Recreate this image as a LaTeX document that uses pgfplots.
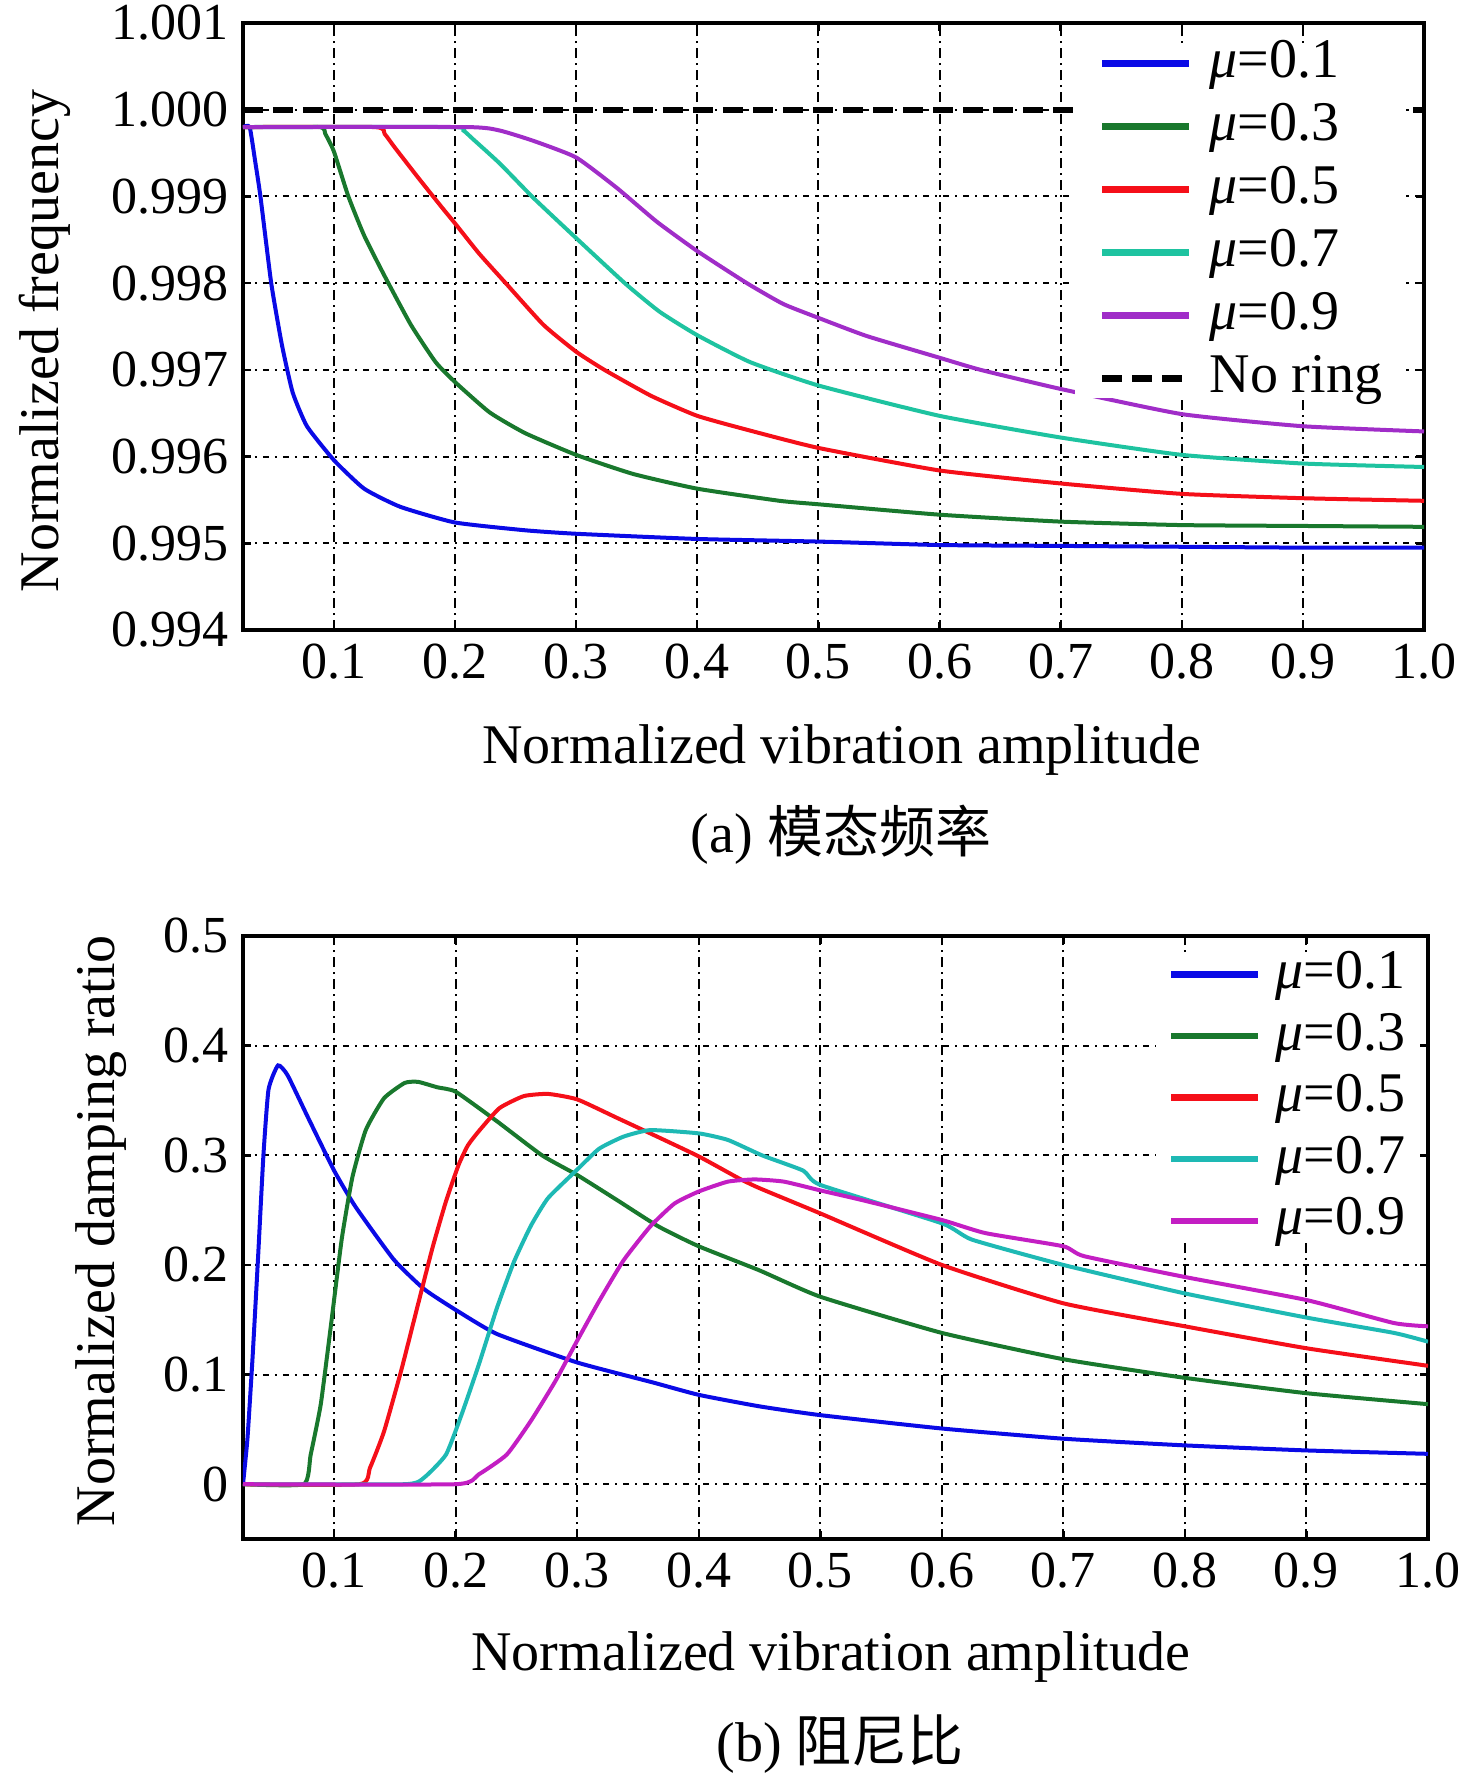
\documentclass[border=0pt]{standalone}
\usepackage{fontspec}
\setmainfont{Liberation Serif}
\newfontfamily\cjk{Noto Sans CJK SC}
\usepackage{pgfplots}
\pgfplotsset{compat=1.18}
\definecolor{c1}{RGB}{10,10,230}
\definecolor{c3}{RGB}{25,120,45}
\definecolor{c5}{RGB}{245,15,25}
\definecolor{a7}{RGB}{30,195,160}
\definecolor{b7}{RGB}{30,185,180}
\definecolor{a9}{RGB}{160,45,200}
\definecolor{b9}{RGB}{195,30,195}
\pgfplotsset{
  mystyle/.style={
    scale only axis,
    xmin=0.025, xmax=1.0,
    axis line style={line width=0.8pt},
    tick style={black, line width=0.6pt},
    major tick length=2pt,
    xmajorgrids, ymajorgrids,
    x grid style={black, line width=0.5pt, dash pattern=on 2.5pt off 1.25pt on 0.5pt off 1.25pt},
    y grid style={black, line width=0.5pt, dash pattern=on 1.5pt off 1.5pt on 0.5pt off 1.5pt},
    xtick={0.1,0.2,0.3,0.4,0.5,0.6,0.7,0.8,0.9,1.0},
    xticklabel style={/pgf/number format/.cd, fixed, fixed zerofill, precision=1},
    /pgf/number format/assume math mode=true,
    tick label style={font=\fontsize{13}{13}\selectfont},
    label style={font=\fontsize{14}{14}\selectfont},
    scaled ticks=false,
    legend cell align=left,
    legend image code/.code={\draw[##1,line width=1.6pt] (0pt,0pt) -- (21.75pt,0pt);},
    every axis plot/.append style={line width=1pt},
  }
}
\begin{document}
\begin{tikzpicture}[x=1pt,y=1pt]
\path[use as bounding box] (0,0) rectangle (369,-445.25);
\begin{axis}[mystyle,
  at={(60.75pt,-157.5pt)}, anchor=south west,
  width=295.25pt, height=151.75pt,
  ymin=0.994, ymax=1.001,
  ytick={0.994,0.995,0.996,0.997,0.998,0.999,1.000,1.001},
  yticklabel style={/pgf/number format/.cd, fixed, fixed zerofill, precision=3},
  xlabel={Normalized vibration amplitude},
  ylabel={Normalized frequency},
  xlabel style={at={(axis description cs:0.507,-0.198)}, anchor=center},
  ylabel style={at={(axis description cs:-0.168,0.476)}, anchor=center},
  legend style={at={(1,1)}, anchor=north east, xshift=-4.25pt, yshift=-4.9pt,
    draw=none, fill=white, font=\fontsize{14}{14}\selectfont,
    inner xsep=6pt, inner ysep=0.5pt, row sep=6.75pt, column sep=4.25pt,
    nodes={inner sep=0pt, text height=8pt, text depth=1pt}},
]
\addplot[c1, smooth, tension=0.3] coordinates {(0.025,0.9998)(0.0305,0.9998)(0.035,0.99941)(0.0394,0.9990)(0.0483,0.9980)(0.0571,0.99729)(0.066,0.99674)(0.0778,0.99635)(0.1,0.99596)(0.125,0.99563)(0.155,0.99542)(0.2,0.99524)(0.258,0.99515)(0.3,0.99511)(0.4,0.99505)(0.5,0.99502)(0.6,0.99498)(0.7,0.99497)(0.8,0.99496)(0.9,0.99495)(1.0,0.99495)};
\addlegendentry{\textit{μ}=0.1}
\addplot[c3, smooth, tension=0.3] coordinates {(0.025,0.9998)(0.088,0.9998)(0.093,0.99972)(0.1,0.99952)(0.112,0.999)(0.125,0.99855)(0.142,0.99808)(0.1636,0.99752)(0.184,0.99709)(0.2,0.99686)(0.2286,0.99651)(0.258,0.99627)(0.3,0.99602)(0.347,0.9958)(0.4,0.99563)(0.468,0.99549)(0.5,0.99545)(0.6,0.99533)(0.7,0.99525)(0.8,0.99521)(0.9,0.9952)(1.0,0.99519)};
\addlegendentry{\textit{μ}=0.3}
\addplot[c5, smooth, tension=0.3] coordinates {(0.025,0.9998)(0.134,0.9998)(0.142,0.99972)(0.15,0.99957)(0.17,0.99921)(0.19,0.99886)(0.2,0.99869)(0.22,0.99834)(0.2419,0.998)(0.273,0.99752)(0.3,0.99721)(0.3234,0.9970)(0.362,0.9967)(0.4,0.99647)(0.4436,0.9963)(0.5,0.9961)(0.6,0.99584)(0.7,0.99569)(0.8,0.99557)(0.9,0.99552)(1.0,0.99549)};
\addlegendentry{\textit{μ}=0.5}
\addplot[a7, smooth, tension=0.3] coordinates {(0.025,0.9998)(0.198,0.9998)(0.207,0.99976)(0.215,0.99966)(0.237,0.99938)(0.265,0.99898)(0.3,0.99852)(0.341,0.99799)(0.369,0.99767)(0.4,0.9974)(0.4436,0.99709)(0.5,0.99682)(0.6,0.99647)(0.7,0.99622)(0.8,0.99602)(0.9,0.99592)(1.0,0.99588)};
\addlegendentry{\textit{μ}=0.7}
\addplot[a9, smooth, tension=0.3] coordinates {(0.025,0.9998)(0.21,0.9998)(0.237,0.99976)(0.265,0.99964)(0.3,0.99945)(0.3335,0.9991)(0.3665,0.99871)(0.4,0.99837)(0.441,0.998)(0.471,0.99776)(0.5,0.9976)(0.54,0.99739)(0.6,0.99714)(0.634,0.997)(0.7,0.99678)(0.8,0.99649)(0.9,0.99635)(1.0,0.99629)};
\addlegendentry{\textit{μ}=0.9}
\addplot[black, line width=1.5pt, dash pattern=on 5pt off 2.5pt] coordinates {(0.025,1.0)(1.0,1.0)};
\addlegendentry{No ring}
\end{axis}
\node[font=\fontsize{14}{14}\selectfont] at (210.25,-208.75) {(a) {\cjk 模态频率}};
\begin{axis}[mystyle,
  at={(60.75pt,-384.75pt)}, anchor=south west,
  width=296.25pt, height=150.75pt,
  ymin=-0.05, ymax=0.5,
  ytick={0,0.1,0.2,0.3,0.4,0.5},
  yticklabel style={/pgf/number format/.cd, fixed, precision=1},
  xlabel={Normalized vibration amplitude},
  ylabel={Normalized damping ratio},
  xlabel style={at={(axis description cs:0.496,-0.196)}, anchor=center},
  ylabel style={at={(axis description cs:-0.120,0.511)}, anchor=center},
  legend style={at={(1,1)}, anchor=north east, xshift=-2.5pt, yshift=-4.4pt,
    draw=none, fill=white, font=\fontsize{14}{14}\selectfont,
    inner xsep=3pt, inner ysep=0.5pt, row sep=6.4pt, column sep=3.5pt,
    nodes={inner sep=0pt, text height=8pt, text depth=1pt}},
]
\addplot[c1, smooth, tension=0.3] coordinates {(0.025,0)(0.0287,0.042)(0.033,0.118)(0.0375,0.209)(0.0418,0.30)(0.046,0.36)(0.0538,0.382)(0.0617,0.373)(0.0787,0.334)(0.1,0.286)(0.1176,0.253)(0.149,0.205)(0.174,0.178)(0.2,0.159)(0.234,0.137)(0.3,0.111)(0.3616,0.093)(0.4,0.0815)(0.45,0.071)(0.5,0.063)(0.6,0.0508)(0.7,0.0415)(0.8,0.0354)(0.9,0.0308)(1.0,0.0277)};
\addlegendentry{\textit{μ}=0.1}
\addplot[c3, smooth, tension=0.3] coordinates {(0.025,0)(0.075,0)(0.0807,0.027)(0.089,0.073)(0.0977,0.148)(0.1063,0.224)(0.115,0.28)(0.126,0.323)(0.141,0.352)(0.158,0.366)(0.169,0.367)(0.185,0.362)(0.2,0.358)(0.234,0.331)(0.271,0.30)(0.3,0.282)(0.333,0.259)(0.367,0.235)(0.4,0.217)(0.45,0.195)(0.5,0.171)(0.6,0.138)(0.7,0.114)(0.8,0.097)(0.9,0.083)(1.0,0.073)};
\addlegendentry{\textit{μ}=0.3}
\addplot[c5, smooth, tension=0.3] coordinates {(0.025,0)(0.121,0)(0.1295,0.015)(0.141,0.048)(0.155,0.103)(0.169,0.164)(0.181,0.216)(0.192,0.258)(0.2023,0.291)(0.21,0.309)(0.219,0.322)(0.236,0.343)(0.256,0.354)(0.276,0.356)(0.3,0.351)(0.333,0.334)(0.362,0.319)(0.4,0.299)(0.433,0.279)(0.45,0.27)(0.5,0.247)(0.6,0.2)(0.7,0.165)(0.8,0.144)(0.9,0.124)(1.0,0.108)};
\addlegendentry{\textit{μ}=0.5}
\addplot[b7, smooth, tension=0.3] coordinates {(0.025,0)(0.158,0)(0.174,0.006)(0.192,0.027)(0.205,0.064)(0.219,0.109)(0.234,0.161)(0.248,0.203)(0.262,0.236)(0.276,0.261)(0.3,0.287)(0.318,0.306)(0.338,0.317)(0.36,0.323)(0.4,0.320)(0.424,0.314)(0.452,0.30)(0.486,0.286)(0.5,0.273)(0.6,0.238)(0.625,0.223)(0.7,0.2)(0.8,0.174)(0.9,0.152)(0.972,0.138)(1.0,0.130)};
\addlegendentry{\textit{μ}=0.7}
\addplot[b9, smooth, tension=0.3] coordinates {(0.025,0)(0.2,0)(0.219,0.009)(0.242,0.027)(0.262,0.058)(0.282,0.094)(0.3,0.131)(0.318,0.167)(0.338,0.204)(0.36,0.235)(0.38,0.256)(0.4,0.267)(0.424,0.276)(0.446,0.278)(0.47,0.276)(0.5,0.268)(0.535,0.259)(0.6,0.241)(0.636,0.229)(0.7,0.217)(0.717,0.208)(0.8,0.189)(0.9,0.168)(0.972,0.147)(1.0,0.144)};
\addlegendentry{\textit{μ}=0.9}
\end{axis}
\node[font=\fontsize{14}{14}\selectfont] at (210,-436.1) {(b) {\cjk 阻尼比}};
\end{tikzpicture}
\end{document}
